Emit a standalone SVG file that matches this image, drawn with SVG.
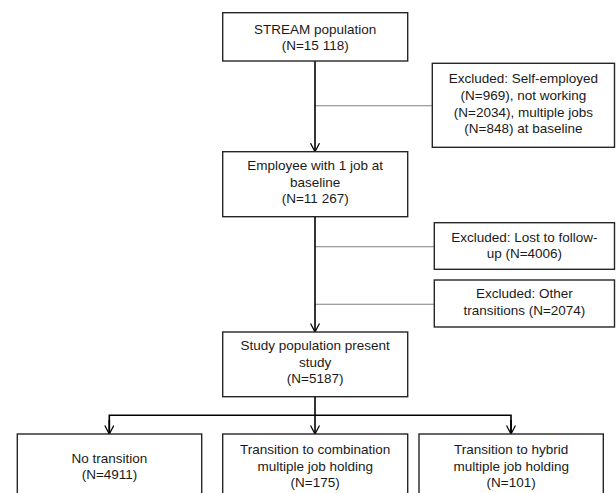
<svg xmlns="http://www.w3.org/2000/svg" width="616" height="493" viewBox="0 0 616 493">
<defs>
<marker id="arr" viewBox="0 0 10 10" refX="9.5" refY="5" markerWidth="9" markerHeight="10" markerUnits="userSpaceOnUse" orient="auto">
<path d="M0,0 L9.5,5 L0,10" fill="none" stroke="#000" stroke-width="1.4"/>
</marker>
</defs>
<style>
.box{fill:#fff;stroke:#262626;stroke-width:1.4}
.t{font-family:"Liberation Sans",Arial,sans-serif;font-size:13.5px;fill:#1a1a1a;text-anchor:middle}
.main{fill:none;stroke:#000;stroke-width:1.6}
.side{fill:none;stroke:#808080;stroke-width:1.1}
</style>
<rect width="616" height="493" fill="#fff"/>
<g id="connectors">
<path class="side" d="M315,105.7 H432.3"/>
<path class="side" d="M315,246.7 H434.3"/>
<path class="side" d="M315,304.3 H434.3"/>
<path class="main" d="M315,61 V151.7" marker-end="url(#arr)"/>
<path class="main" d="M315,216.7 V332" marker-end="url(#arr)"/>
<path class="main" d="M315,396.7 V434" marker-end="url(#arr)"/>
<path class="main" d="M109.3,434 V415.3 H511 V434" />
<path class="main" d="M109.3,420 V434" marker-end="url(#arr)"/>
<path class="main" d="M511,420 V434" marker-end="url(#arr)"/>
</g>
<g id="stream">
<rect class="box" x="222.7" y="12.7" width="185" height="48.3"/>
<text class="t" x="315.2" y="34">STREAM population</text>
<text class="t" x="315.2" y="50">(N=15 118)</text>
</g>
<g id="excluded1">
<rect class="box" x="432.3" y="63.3" width="182.2" height="84"/>
<text class="t" x="523.4" y="83.3">Excluded: Self-employed</text>
<text class="t" x="523.4" y="100">(N=969), not working</text>
<text class="t" x="523.4" y="116.7">(N=2034), multiple jobs</text>
<text class="t" x="523.4" y="133.3">(N=848) at baseline</text>
</g>
<g id="employee">
<rect class="box" x="222.7" y="151.7" width="185" height="65"/>
<text class="t" x="315.2" y="169.5">Employee with 1 job at</text>
<text class="t" x="315.2" y="186.5">baseline</text>
<text class="t" x="315.2" y="203.3">(N=11 267)</text>
</g>
<g id="lost">
<rect class="box" x="434.3" y="222.7" width="180.2" height="46.6"/>
<text class="t" x="524.4" y="241.7">Excluded: Lost to follow-</text>
<text class="t" x="524.4" y="258.3">up (N=4006)</text>
</g>
<g id="other">
<rect class="box" x="434.3" y="280" width="180.2" height="47"/>
<text class="t" x="524.4" y="298.3">Excluded: Other</text>
<text class="t" x="524.4" y="315">transitions (N=2074)</text>
</g>
<g id="study">
<rect class="box" x="222.7" y="332" width="185" height="64.7"/>
<text class="t" x="315.2" y="350">Study population present</text>
<text class="t" x="315.2" y="366.7">study</text>
<text class="t" x="315.2" y="383.3">(N=5187)</text>
</g>
<g id="none">
<rect class="box" x="17.3" y="434" width="184.4" height="70"/>
<text class="t" x="109.5" y="462.7">No transition</text>
<text class="t" x="109.5" y="479.3">(N=4911)</text>
</g>
<g id="combination">
<rect class="box" x="222.7" y="434" width="185" height="70"/>
<text class="t" x="315.2" y="453.5">Transition to combination</text>
<text class="t" x="315.2" y="470.5">multiple job holding</text>
<text class="t" x="315.2" y="487.3">(N=175)</text>
</g>
<g id="hybrid">
<rect class="box" x="419" y="434" width="184.3" height="70"/>
<text class="t" x="511.2" y="453.5">Transition to hybrid</text>
<text class="t" x="511.2" y="470.5">multiple job holding</text>
<text class="t" x="511.2" y="487.3">(N=101)</text>
</g>
</svg>
